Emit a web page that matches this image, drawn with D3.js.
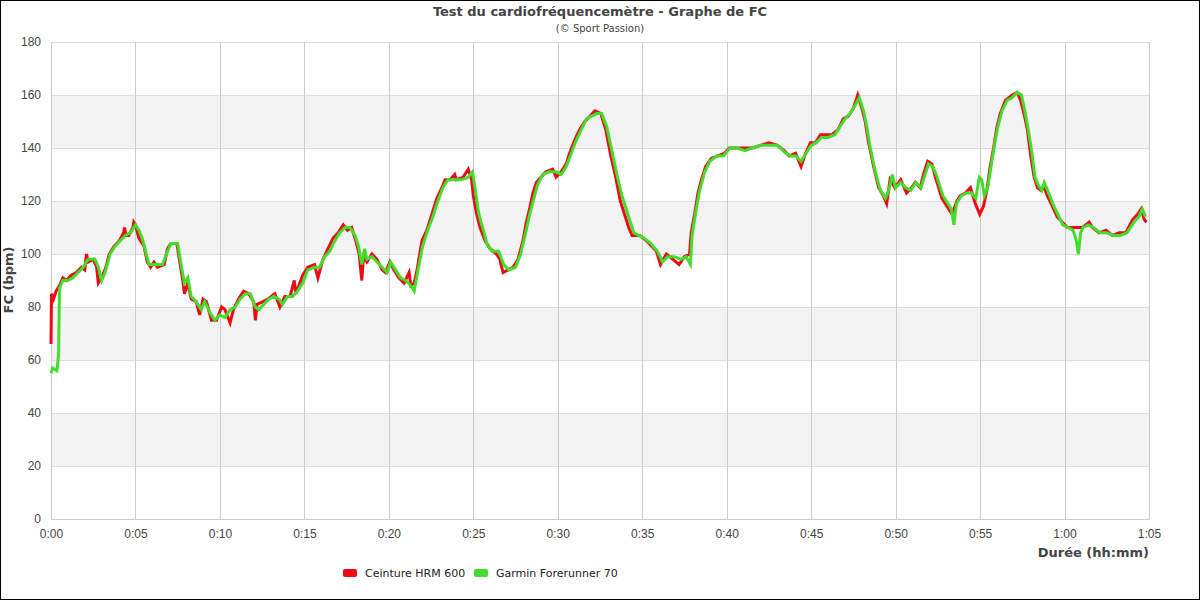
<!DOCTYPE html>
<html>
<head>
<meta charset="utf-8">
<script src="https://cdn.jsdelivr.net/npm/d3@7"></script>
<style>
  body { margin: 0; background: #fff; }
  svg { display: block; font-family: "DejaVu Sans", sans-serif; }
</style>
</head>
<body>
<svg id="chart" width="1200" height="600"></svg>
<script>
// heart rate, minutes from start / bpm
var hrmMinutes = [0, 0.03, 0.15, 0.3, 0.5, 0.7, 0.9, 1.2, 1.5, 1.8, 2.0, 2.1, 2.2, 2.5, 2.7, 2.8, 3.0, 3.25, 3.45, 3.75,
  4.05, 4.3, 4.35, 4.45, 4.6, 4.85, 4.9, 5.0, 5.2, 5.5, 5.7, 5.9, 6.1, 6.3, 6.7, 6.9, 7.1, 7.45, 7.6, 7.8,
  7.9, 8.1, 8.3, 8.6, 8.8, 9.0, 9.2, 9.5, 9.8, 10.1, 10.3, 10.6, 10.8, 11.1, 11.4, 11.7, 12.0, 12.1, 12.2, 12.55,
  12.85, 13.25, 13.55, 13.85, 14.15, 14.4, 14.5, 14.9, 15.2, 15.6, 15.8, 16.1, 16.4, 16.7, 17.0, 17.3, 17.55, 17.8, 18.04, 18.24,
  18.4, 18.5, 18.7, 19.0, 19.3, 19.6, 19.8, 20.06, 20.3, 20.6, 20.9, 21.2, 21.3, 21.5, 21.67, 21.96, 22.25, 22.55, 22.84, 23.14,
  23.33, 23.63, 23.9, 24.0, 24.4, 24.7, 24.9, 25.0, 25.2, 25.4, 25.7, 26.0, 26.37, 26.57, 26.76, 27.06, 27.35, 27.65, 27.94, 28.14,
  28.33, 28.53, 28.73, 29.0, 29.3, 29.7, 29.9, 30.2, 30.5, 30.7, 31.0, 31.3, 31.6, 31.9, 32.2, 32.55, 32.84, 33.14, 33.43, 33.7,
  34.0, 34.2, 34.4, 34.7, 34.86, 35.25, 35.55, 35.84, 36.08, 36.43, 36.82, 37.18, 37.5, 37.8, 37.9, 38.1, 38.3, 38.5, 38.75, 39.08,
  39.47, 39.86, 40.16, 40.55, 41.04, 41.53, 42.0, 42.5, 43.0, 43.4, 43.7, 44.08, 44.27, 44.4, 44.67, 44.96, 45.25, 45.55, 45.84, 46.24,
  46.6, 46.9, 47.2, 47.5, 47.76, 48.0, 48.2, 48.4, 48.7, 49.0, 49.27, 49.47, 49.67, 49.96, 50.3, 50.65, 50.94, 51.16, 51.46, 51.65,
  51.9, 52.15, 52.35, 52.55, 52.74, 52.94, 53.14, 53.34, 53.63, 53.83, 54.13, 54.43, 54.72, 54.98, 55.2, 55.4, 55.6, 55.8, 56.0, 56.2,
  56.5, 56.9, 57.2, 57.4, 57.6, 57.8, 58.0, 58.2, 58.4, 58.6, 58.8, 58.98, 59.28, 59.57, 59.87, 60.17, 60.47, 60.66, 61.06, 61.46,
  61.65, 62.05, 62.45, 62.84, 63.24, 63.63, 64.03, 64.33, 64.53, 64.72, 64.85];
var hrmBpm = [66, 85, 83, 86, 88, 91, 90, 92, 93, 95, 94, 100, 97, 98, 95, 89, 91, 95, 100, 103,
  105, 108, 110, 107, 107, 110, 112, 111, 106, 103, 97, 95, 97, 95, 96, 102, 104, 104, 98, 90,
  85, 89, 83, 82, 77, 83, 82, 75, 75, 80, 79, 74, 79, 83, 86, 85, 82, 75, 81, 82,
  83, 85, 80, 84, 84, 90, 85, 92, 95, 96, 91, 98, 102, 106, 108, 111, 109, 110, 105, 100,
  90, 99, 97, 100, 98, 94, 93, 97, 94, 91, 89, 93, 88, 89, 94, 105, 109, 115, 121, 125,
  128, 128, 130, 128, 129, 132, 128, 122, 115, 110, 105, 102, 100, 98, 93, 94, 95, 98, 105, 112,
  117, 123, 127, 129, 131, 132, 129, 131, 134, 138, 143, 147, 150, 152, 154, 153, 147, 137, 129, 120,
  114, 110, 107, 107, 107, 105, 103, 101, 96, 100, 98, 96, 99, 100, 108, 115, 123, 128, 133, 136,
  137, 138, 140, 140, 140, 140, 141, 142, 141, 139, 137, 138, 135, 133, 138, 142, 142, 145, 145, 145,
  147, 151, 152, 155, 160, 155, 150, 142, 133, 125, 122, 119, 128, 125, 128, 123, 125, 127, 125, 130,
  135, 134, 129, 125, 121, 119, 117, 115, 120, 122, 123, 125, 119, 115, 118, 124, 133, 140, 148, 153,
  158, 160, 161, 158, 153, 147, 137, 129, 125, 124, 125, 122, 118, 114, 112, 110, 110, 110, 110, 112,
  110, 108, 109, 107, 108, 108, 113, 115, 117, 113, 112];

var garminMinutes = [0, 0.1, 0.35, 0.45, 0.5, 0.7, 1.0, 1.3, 1.6, 1.9, 2.2, 2.6, 2.8, 3.0, 3.2, 3.5, 3.8, 4.1, 4.4, 4.7,
  5.0, 5.2, 5.4, 5.6, 5.8, 6.2, 6.6, 6.9, 7.1, 7.5, 7.7, 7.9, 8.1, 8.3, 8.6, 8.9, 9.1, 9.4, 9.7, 10.0,
  10.3, 10.6, 10.9, 11.2, 11.5, 11.8, 12.1, 12.3, 12.6, 12.9, 13.2, 13.5, 13.7, 14.0, 14.3, 14.6, 14.9, 15.2, 15.6, 15.9,
  16.2, 16.5, 16.8, 17.1, 17.4, 17.7, 18.0, 18.2, 18.4, 18.57, 18.7, 19.0, 19.3, 19.6, 19.9, 20.1, 20.4, 20.7, 21.0, 21.3,
  21.5, 21.7, 22.0, 22.3, 22.6, 22.9, 23.2, 23.5, 23.9, 24.3, 24.7, 24.95, 25.1, 25.3, 25.45, 25.6, 25.8, 26.1, 26.5, 26.8,
  27.1, 27.5, 27.8, 28.1, 28.3, 28.5, 28.8, 29.1, 29.5, 29.9, 30.2, 30.5, 30.8, 31.1, 31.4, 31.7, 32.0, 32.3, 32.6, 32.9,
  33.2, 33.5, 33.8, 34.0, 34.3, 34.5, 34.8, 35.1, 35.5, 35.9, 36.2, 36.5, 36.9, 37.3, 37.6, 37.85, 37.95, 38.2, 38.4, 38.7,
  39.0, 39.4, 39.8, 40.2, 40.6, 41.1, 41.5, 42.0, 42.5, 43.0, 43.5, 43.8, 44.1, 44.4, 44.7, 45.0, 45.3, 45.6, 46.0, 46.4,
  46.7, 47.0, 47.3, 47.6, 47.85, 48.1, 48.3, 48.5, 48.8, 49.1, 49.4, 49.6, 49.8, 50.0, 50.3, 50.6, 50.9, 51.2, 51.5, 51.7,
  51.95, 52.2, 52.4, 52.6, 52.8, 53.0, 53.3, 53.45, 53.6, 53.9, 54.2, 54.5, 54.75, 54.95, 55.1, 55.25, 55.45, 55.65, 55.85, 56.05,
  56.3, 56.6, 56.9, 57.2, 57.45, 57.65, 57.85, 58.05, 58.25, 58.45, 58.65, 58.8, 59.0, 59.3, 59.6, 59.9, 60.2, 60.5, 60.7, 60.82,
  60.95, 61.1, 61.4, 61.7, 62.1, 62.5, 62.9, 63.3, 63.7, 64.1, 64.4, 64.6, 64.8];
var garminBpm = [55, 57, 56, 62, 87, 90, 90, 91, 93, 95, 98, 98, 95, 90, 93, 100, 103, 105, 107, 108,
  111, 109, 106, 101, 96, 96, 96, 101, 104, 104, 96, 89, 91, 84, 82, 79, 82, 78, 75, 77,
  76, 79, 80, 83, 85, 85, 80, 79, 81, 83, 84, 83, 81, 84, 84, 86, 89, 94, 95, 95,
  99, 101, 105, 108, 110, 110, 107, 103, 96, 102, 98, 99, 97, 95, 93, 97, 94, 91, 90, 88,
  86, 93, 103, 109, 114, 120, 125, 128, 128, 128, 129, 131, 125, 116, 112, 109, 104, 101, 101, 96,
  94, 95, 100, 108, 114, 119, 126, 130, 131, 131, 130, 133, 138, 143, 147, 151, 152, 153, 153, 148,
  139, 130, 122, 118, 112, 108, 107, 106, 104, 101, 97, 99, 99, 98, 99, 96, 107, 117, 124, 131,
  135, 137, 137, 140, 140, 139, 140, 141, 141, 141, 138, 137, 137, 135, 138, 141, 142, 144, 144, 145,
  148, 151, 153, 156, 159, 154, 148, 140, 131, 124, 121, 124, 130, 125, 127, 125, 124, 127, 125, 129,
  134, 133, 130, 126, 122, 120, 117, 111, 119, 122, 123, 123, 121, 129, 128, 122, 125, 133, 141, 148,
  154, 158, 159, 161, 160, 154, 147, 139, 129, 126, 124, 127, 124, 119, 115, 111, 110, 109, 105, 100,
  108, 110, 111, 110, 108, 108, 107, 107, 108, 112, 114, 117, 114];

var yTicks = [0, 20, 40, 60, 80, 100, 120, 140, 160, 180];
var xTicks = [0, 5, 10, 15, 20, 25, 30, 35, 40, 45, 50, 55, 60, 65];
var seriesNames = ["Ceinture HRM 600", "Garmin Forerunner 70"];
var seriesColors = ["#ee0a14", "#44dd2e"];

var hrmData = hrmMinutes.map(function(t, i) { return {t: t, bpm: hrmBpm[i]}; });
var garminData = garminMinutes.map(function(t, i) { return {t: t, bpm: garminBpm[i]}; });

var svg = d3.select("#chart"),
    margin = {top: 42, right: 51, bottom: 81, left: 51},
    width = 1200 - margin.left - margin.right,
    height = 600 - margin.top - margin.bottom;

svg.append("rect")
    .attr("x", 0.5).attr("y", 0.5)
    .attr("width", 1199).attr("height", 599)
    .attr("fill", "#fff")
    .attr("stroke", "#000");

var g = svg.append("g")
    .attr("transform", "translate(" + margin.left + "," + margin.top + ")");

var x = d3.scaleLinear().domain([0, 65]).range([0, width]);
var y = d3.scaleLinear().domain([0, 180]).range([height, 0]);

// alternating bands
g.selectAll(".band")
    .data(yTicks.slice(0, -1).filter(function(d) { return (d / 20) % 2 === 1; }))
  .enter().append("rect")
    .attr("x", 0)
    .attr("y", function(d) { return y(d + 20); })
    .attr("width", width)
    .attr("height", function(d) { return y(d) - y(d + 20); })
    .attr("fill", "#f3f3f3");

g.selectAll(".hgrid")
    .data(yTicks)
  .enter().append("line")
    .attr("x1", 0).attr("x2", width)
    .attr("y1", function(d) { return Math.round(y(d)) + 0.5; })
    .attr("y2", function(d) { return Math.round(y(d)) + 0.5; })
    .attr("stroke", "#dddddd");

g.selectAll(".vgrid")
    .data(xTicks)
  .enter().append("line")
    .attr("y1", 0).attr("y2", height)
    .attr("x1", function(d) { return Math.round(x(d)) + 0.5; })
    .attr("x2", function(d) { return Math.round(x(d)) + 0.5; })
    .attr("stroke", "#cccccc");

var xAxis = g.append("g")
    .attr("transform", "translate(0," + height + ")")
    .call(d3.axisBottom(x).tickValues(xTicks).tickSize(0).tickPadding(10)
      .tickFormat(function(d) { return Math.floor(d / 60) + ":" + d3.format("02")(d % 60); }));
xAxis.select(".domain").attr("stroke", "#cccccc");
xAxis.selectAll("text").attr("fill", "#444").style("font-size", "12px");

var yAxis = g.append("g")
    .call(d3.axisLeft(y).tickValues(yTicks).tickSize(0).tickPadding(10));
yAxis.select(".domain").attr("stroke", "#cccccc");
yAxis.selectAll("text").attr("fill", "#444").style("font-size", "12px");

var line = d3.line()
    .x(function(d) { return x(d.t); })
    .y(function(d) { return y(d.bpm); });

g.append("path")
    .datum(hrmData)
    .attr("fill", "none")
    .attr("stroke", seriesColors[0])
    .attr("stroke-width", 3)
    .attr("stroke-linejoin", "miter")
    .attr("d", line);

g.append("path")
    .datum(garminData)
    .attr("fill", "none")
    .attr("stroke", seriesColors[1])
    .attr("stroke-width", 3)
    .attr("stroke-linejoin", "miter")
    .attr("d", line);

// titles
svg.append("text")
    .attr("x", 600).attr("y", 16)
    .attr("text-anchor", "middle")
    .attr("fill", "#444")
    .style("font-size", "13px").style("font-weight", "bold")
    .text("Test du cardiofréquencemètre - Graphe de FC");

svg.append("text")
    .attr("x", 600).attr("y", 32)
    .attr("text-anchor", "middle")
    .attr("fill", "#444")
    .style("font-size", "10px")
    .text("(© Sport Passion)");

svg.append("text")
    .attr("x", margin.left + width).attr("y", 557)
    .attr("text-anchor", "end")
    .attr("fill", "#444")
    .style("font-size", "13px").style("font-weight", "bold")
    .text("Durée (hh:mm)");

svg.append("text")
    .attr("transform", "translate(13,280) rotate(-90)")
    .attr("text-anchor", "middle")
    .attr("fill", "#444")
    .style("font-size", "13px").style("font-weight", "bold")
    .text("FC (bpm)");

// legend
var legend = svg.selectAll(".legend")
    .data(seriesNames)
  .enter().append("g")
    .attr("transform", function(d, i) { return "translate(" + (343 + i * 131) + ",569)"; });

legend.append("rect")
    .attr("width", 14).attr("height", 8).attr("rx", 2)
    .attr("fill", function(d, i) { return seriesColors[i]; });

legend.append("text")
    .attr("x", 22).attr("y", 8)
    .attr("fill", "#222")
    .style("font-size", "11px")
    .text(function(d) { return d; });
</script>
</body>
</html>
